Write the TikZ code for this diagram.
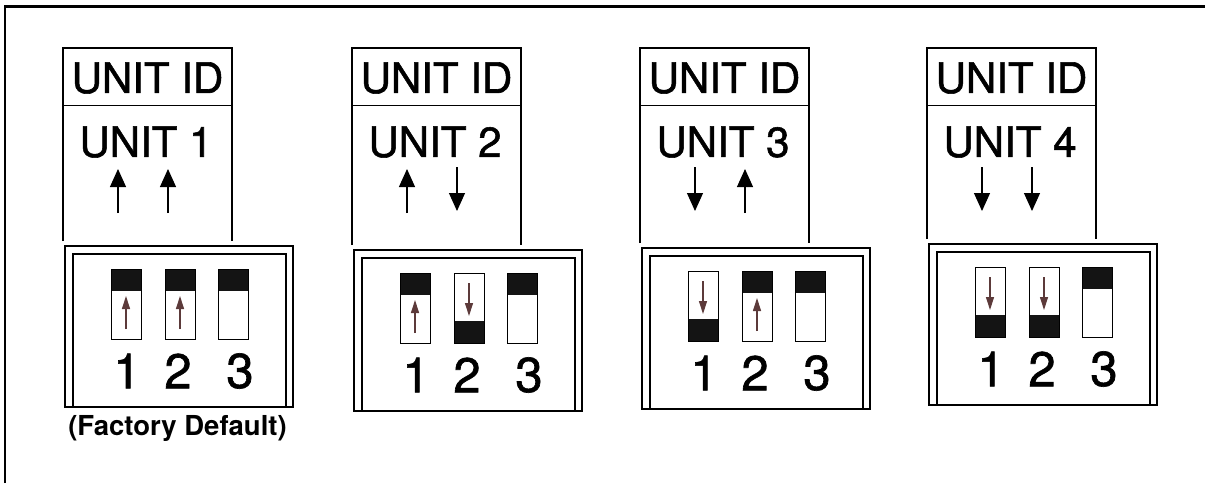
\documentclass[tikz,border=0pt]{standalone}
\usepackage{fontspec}
\setmainfont{TeX Gyre Heros}
\newfontfamily\unitfont[FakeBold=1.3]{TeX Gyre Heros}
\usetikzlibrary{arrows.meta}

\definecolor{swbrown}{RGB}{92,58,58}

\tikzset{
  idtext/.style={font=\unitfont\fontsize{42}{42}\selectfont, inner sep=0pt},
  numtext/.style={font=\unitfont\fontsize{49}{49}\selectfont, inner sep=0pt},
  switchbox/.style={draw, line width=1pt, minimum width=30pt, minimum height=70pt, inner sep=0pt},
  knob/.style={fill=black!92, minimum width=30pt, minimum height=22pt, inner sep=0pt},
  bigarrow/.style={line width=1.1pt, -{Triangle[length=18pt,width=16pt]}},
  smallarrow/.style={swbrown, line width=1.2pt, -{Triangle[length=13pt,width=8pt]}},
}

\begin{document}
\begin{tikzpicture}[x=1pt, y=-1pt]
    \useasboundingbox (0,0) rectangle (1205,483);

    % frame
    \draw[line width=2.4pt] (5,483) -- (5,6.5) -- (1205,6.5);

    % one panel per unit: x of label box / housing shift / unit / switch 1 / switch 2 (1 = up, -1 = down)
    \foreach \ux/\dy/\n/\sa/\sb in {63/0/1/1/1, 352/4/2/1/-1, 640/2/3/-1/1, 927/-2/4/-1/-1}{
        \pgfmathsetmacro\dt{246+\dy}

        % label
        \draw[line width=1.3pt] (\ux,\dt-5) -- (\ux,48) -- (\ux+169,48) -- (\ux+169,\dt-5);
        \draw[line width=1.3pt] (\ux,105.5) -- (\ux+169,105.5);
        \node[idtext] (id\n) at (\ux+84.5,78) {UNIT ID};
        \node[idtext] (unit\n) at (\ux+83,142) {UNIT \n};
        \draw[bigarrow] (\ux+55,190+23*\sa) -- (\ux+55,190-21*\sa);
        \draw[bigarrow] (\ux+105,190+23*\sb) -- (\ux+105,190-21*\sb);

        % housing
        \draw[line width=1.3pt] (\ux+2,\dt) rectangle (\ux+230,\dt+161);
        \draw[line width=1.1pt] (\ux+10,\dt+161) -- (\ux+10,\dt+8) -- (\ux+223,\dt+8) -- (\ux+223,\dt+161);

        % switches
        \node[knob] (knob\n-1) at (\ux+63,\dt+58-24*\sa) {};
        \node[knob] (knob\n-2) at (\ux+117,\dt+58-24*\sb) {};
        \node[knob] (knob\n-3) at (\ux+170,\dt+34) {};
        \node[switchbox] (sw\n-1) at (\ux+63,\dt+58) {};
        \node[switchbox] (sw\n-2) at (\ux+117,\dt+58) {};
        \node[switchbox] (sw\n-3) at (\ux+170,\dt+58) {};
        \draw[smallarrow] (\ux+63,\dt+58+25*\sa) -- (\ux+63,\dt+58-8*\sa);
        \draw[smallarrow] (\ux+117,\dt+58+25*\sb) -- (\ux+117,\dt+58-8*\sb);

        \node[numtext] (num\n-1) at (\ux+64,\dt+125) {1};
        \node[numtext] (num\n-2) at (\ux+115,\dt+125) {2};
        \node[numtext] (num\n-3) at (\ux+177,\dt+125) {3};
    }

    \node[font=\bfseries\fontsize{27.5}{27.5}\selectfont, inner sep=0pt, anchor=base] (factory) at (177.5,435) {(Factory Default)};
\end{tikzpicture}
\end{document}
